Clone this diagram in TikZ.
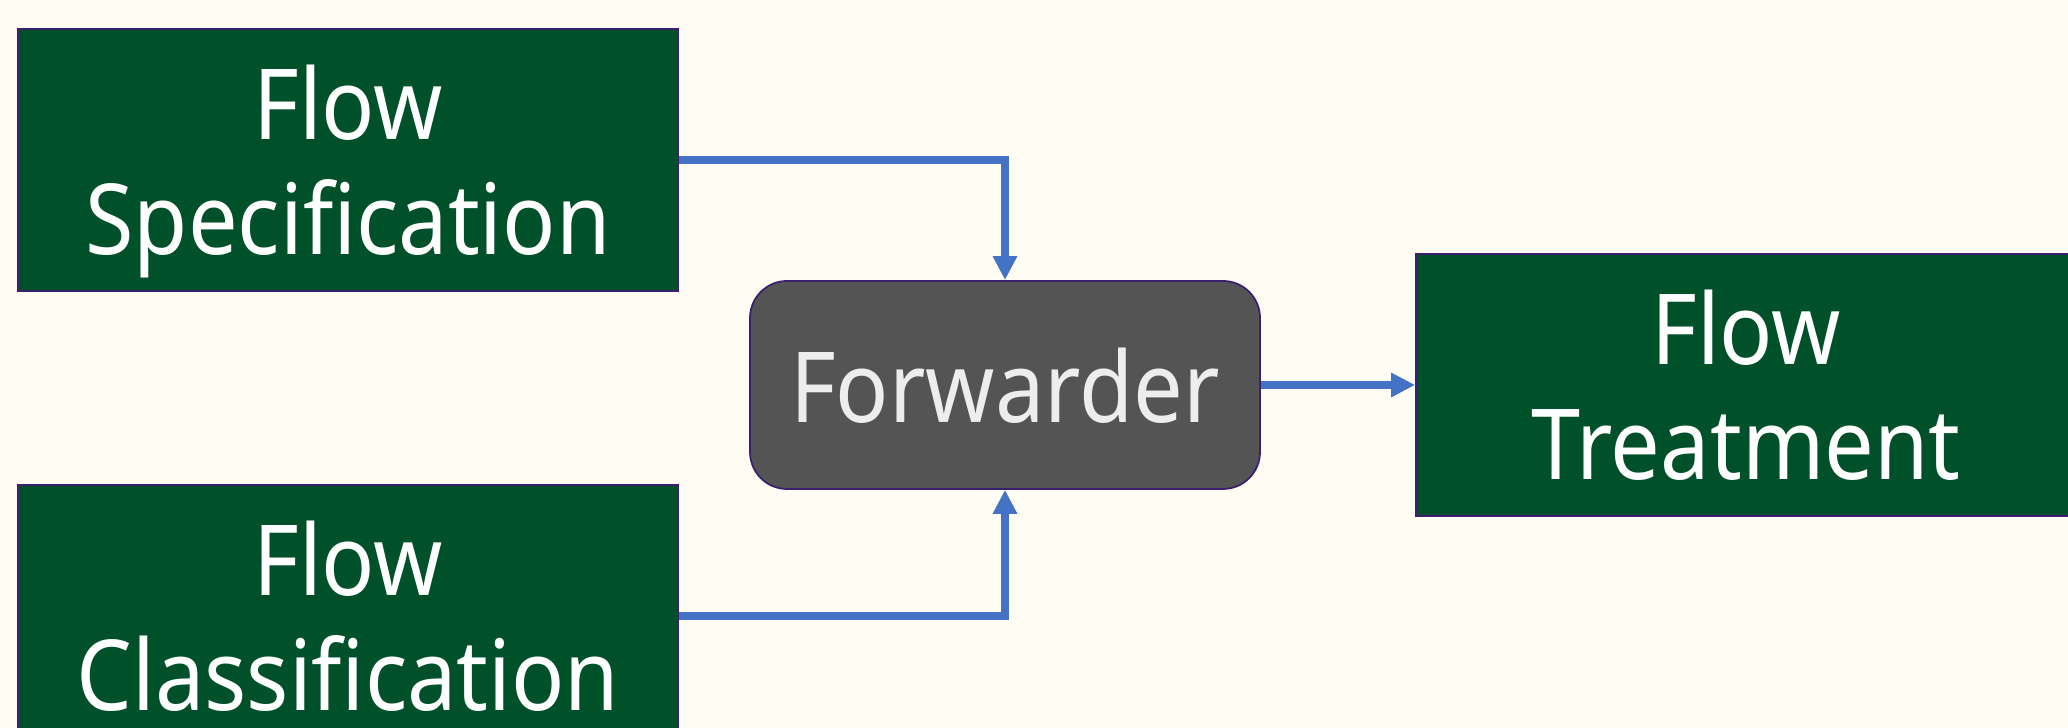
\documentclass[tikz,border=0pt]{standalone}
\usepackage{fontspec}
\setmainfont{Noto Sans}[FakeStretch=0.9]
\usetikzlibrary{arrows.meta}
\definecolor{bgcream}{HTML}{FFFCF4}
\definecolor{boxgreen}{HTML}{00502A}
\definecolor{fwdgray}{HTML}{545454}
\definecolor{linkblue}{HTML}{4472C4}
\definecolor{edgepurple}{HTML}{3C1F6E}

\begin{document}
\begin{tikzpicture}[x=0.1mm,y=0.1mm,
  block/.style={draw=edgepurple,line width=0.5pt,fill=boxgreen,text=white,
    minimum width=66mm,minimum height=26.2mm,inner sep=0pt,align=center,
    text depth=0pt,font=\fontsize{27.9}{32.7}\selectfont},
  fwdbox/.style={block,fill=fwdgray,text=black!7,rounded corners=3.7mm,
    minimum width=51mm,minimum height=20.8mm},
  link/.style={draw=linkblue,line width=2.1pt,
    -{Triangle[width=2.3mm,length=2.4mm]}}]
  \clip (0,0) rectangle (2068,728);
  \fill[bgcream] (0,0) rectangle (2068,728);
  % sources on the left, target on the right
  \node[block] (spec) at (348,568) {Flow\\Specification};
  \node[block] (cls) at (348,112) {Flow\\Classification};
  \node[fwdbox] (fwd) at (1005,343) {Forwarder};
  \node[block] (treat) at (1746,343) {Flow\\Treatment};
  \draw[link] (spec.east) -| (fwd.north);
  \draw[link] (cls.east) -| (fwd.south);
  \draw[link] (fwd.east) -- (treat.west);
\end{tikzpicture}
\end{document}
